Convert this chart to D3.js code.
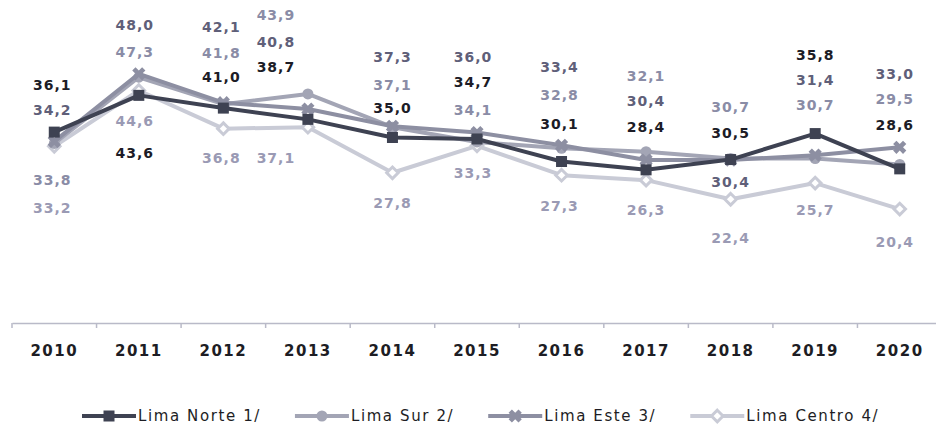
<!DOCTYPE html>
<html>
<head>
<meta charset="utf-8">
<script src="https://cdn.jsdelivr.net/npm/d3@7"></script>
<style>
    body { margin: 0; background: #fff; }
    svg { display: block; font-family: "DejaVu Sans", sans-serif; }
</style>
</head>
<body>
<div class="container"></div>
<script>
const years = [2010, 2011, 2012, 2013, 2014, 2015, 2016, 2017, 2018, 2019, 2020];
const limaNorte = [36.1, 43.6, 41.0, 38.7, 35.0, 34.7, 30.1, 28.4, 30.5, 35.8, 28.6];
const limaSur = [33.8, 47.3, 41.8, 43.9, 37.1, 34.1, 32.8, 32.1, 30.7, 30.7, 29.5];
const limaEste = [34.2, 48.0, 42.1, 40.8, 37.3, 36.0, 33.4, 30.4, 30.4, 31.4, 33.0];
const limaCentro = [33.2, 44.6, 36.8, 37.1, 27.8, 33.3, 27.3, 26.3, 22.4, 25.7, 20.4];
const seriesNames = ['Lima Norte 1/', 'Lima Sur 2/', 'Lima Este 3/', 'Lima Centro 4/'];

// label placement (pixel offsets from each point, hand tuned to the original layout)
const labelDx = [-2, -4, -2, -32, 0, -4, -2, 0, 0, 0, -5];
const labelDy = {
    norte: [-47, 58, -31, -52, -30, -57, -38, -43, -27, -79, -44],
    sur: [37, -25, -51, -79, -42, -32, -53, -76, -52, -54, -65],
    este: [-31, -49, -76, -67, -69, -76, -78, -59, 22, -75, -73],
    centro: [62, 31, 29, 31, 30, 27, 31, 30, 39, 27, 33]
};

const width = 936, height = 425;
const axisY = 323;
const font = '"DejaVu Sans", sans-serif';

const series = [
    { key: 'norte', name: seriesNames[0], values: limaNorte, line: '#3e4252', label: '#1c1c26', marker: 'square' },
    { key: 'sur', name: seriesNames[1], values: limaSur, line: '#a3a5b5', label: '#8a8ca6', marker: 'circle' },
    { key: 'este', name: seriesNames[2], values: limaEste, line: '#8d8fa2', label: '#5f5f79', marker: 'x' },
    { key: 'centro', name: seriesNames[3], values: limaCentro, line: '#c9cbd6', label: '#9a9ab4', marker: 'diamond' }
];

const svg = d3.select('.container').append('svg')
    .attr('width', width)
    .attr('height', height);

const xBand = d3.scaleBand().domain(years).range([12, 942]);
const xMid = y => xBand(y) + xBand.bandwidth() / 2;
const yScale = d3.scaleLinear().domain([0, 60]).range([309, 15]);

// x axis
const xAxis = d3.axisBottom(xBand).tickSize(0).tickPadding(22);
const axisG = svg.append('g')
    .attr('transform', `translate(0, ${axisY})`)
    .call(xAxis)
    .attr('font-family', font);
axisG.select('.domain').attr('stroke', '#b9bac8').attr('stroke-width', 1.5);
axisG.selectAll('text')
    .attr('font-size', 15)
    .attr('font-weight', 'bold')
    .attr('letter-spacing', 1.5)
    .attr('fill', '#1d1d24');
axisG.selectAll('.boundary')
    .data(years)
    .join('line')
    .attr('class', 'boundary')
    .attr('x1', d => xBand(d)).attr('x2', d => xBand(d))
    .attr('y1', 0).attr('y2', 5)
    .attr('stroke', '#b9bac8').attr('stroke-width', 1.5);

function drawMarker(g, type, color, size) {
    if (type === 'square') {
        g.append('rect').attr('x', -size / 2).attr('y', -size / 2)
            .attr('width', size).attr('height', size).attr('fill', color);
    } else if (type === 'circle') {
        g.append('circle').attr('r', size / 2).attr('fill', color);
    } else if (type === 'x') {
        g.append('path')
            .attr('d', d3.symbol(d3.symbolCross, size * size * 0.9)())
            .attr('transform', 'rotate(45)')
            .attr('fill', color);
    } else {
        g.append('path')
            .attr('d', d3.symbol(d3.symbolDiamond2, size * size * 0.7)())
            .attr('fill', '#fff').attr('stroke', color).attr('stroke-width', 3);
    }
}

const line = d3.line()
    .x((d, i) => xMid(years[i]))
    .y(d => yScale(d));

// draw light series first so the dark one sits on top
const drawOrder = [series[3], series[1], series[2], series[0]];
drawOrder.forEach(s => {
    const g = svg.append('g');
    g.append('path')
        .datum(s.values)
        .attr('d', line)
        .attr('fill', 'none')
        .attr('stroke', s.line)
        .attr('stroke-width', 4)
        .attr('stroke-linejoin', 'round');
    g.selectAll('.pt')
        .data(s.values)
        .join('g')
        .attr('class', 'pt')
        .attr('transform', (d, i) => `translate(${xMid(years[i])}, ${yScale(d)})`)
        .each(function () { drawMarker(d3.select(this), s.marker, s.line, 11); });
});

// value labels
series.forEach(s => {
    svg.append('g').selectAll('text')
        .data(s.values)
        .join('text')
        .attr('x', (d, i) => xMid(years[i]) + labelDx[i])
        .attr('y', (d, i) => yScale(d) + labelDy[s.key][i])
        .attr('text-anchor', 'middle')
        .attr('dominant-baseline', 'central')
        .attr('font-size', 14)
        .attr('font-weight', 'bold')
        .attr('letter-spacing', 1)
        .attr('fill', s.label)
        .text(d => d3.format('.1f')(d).replace('.', ','));
});

// legend
const legend = svg.append('g').attr('transform', 'translate(82, 416)');
let lx = 0;
series.forEach(s => {
    const item = legend.append('g').attr('transform', `translate(${lx}, 0)`);
    item.append('line')
        .attr('x1', 0).attr('x2', 54).attr('y1', 0).attr('y2', 0)
        .attr('stroke', s.line).attr('stroke-width', 4);
    const m = item.append('g').attr('transform', 'translate(27, 0)');
    drawMarker(m, s.marker, s.line, 11);
    const t = item.append('text')
        .attr('x', 56).attr('y', 0)
        .attr('dominant-baseline', 'central')
        .attr('font-size', 15)
        .attr('letter-spacing', 1.6)
        .attr('fill', '#1d1d24')
        .text(s.name);
    lx += 56 + t.node().getComputedTextLength() + 34;
});
</script>
</body>
</html>
